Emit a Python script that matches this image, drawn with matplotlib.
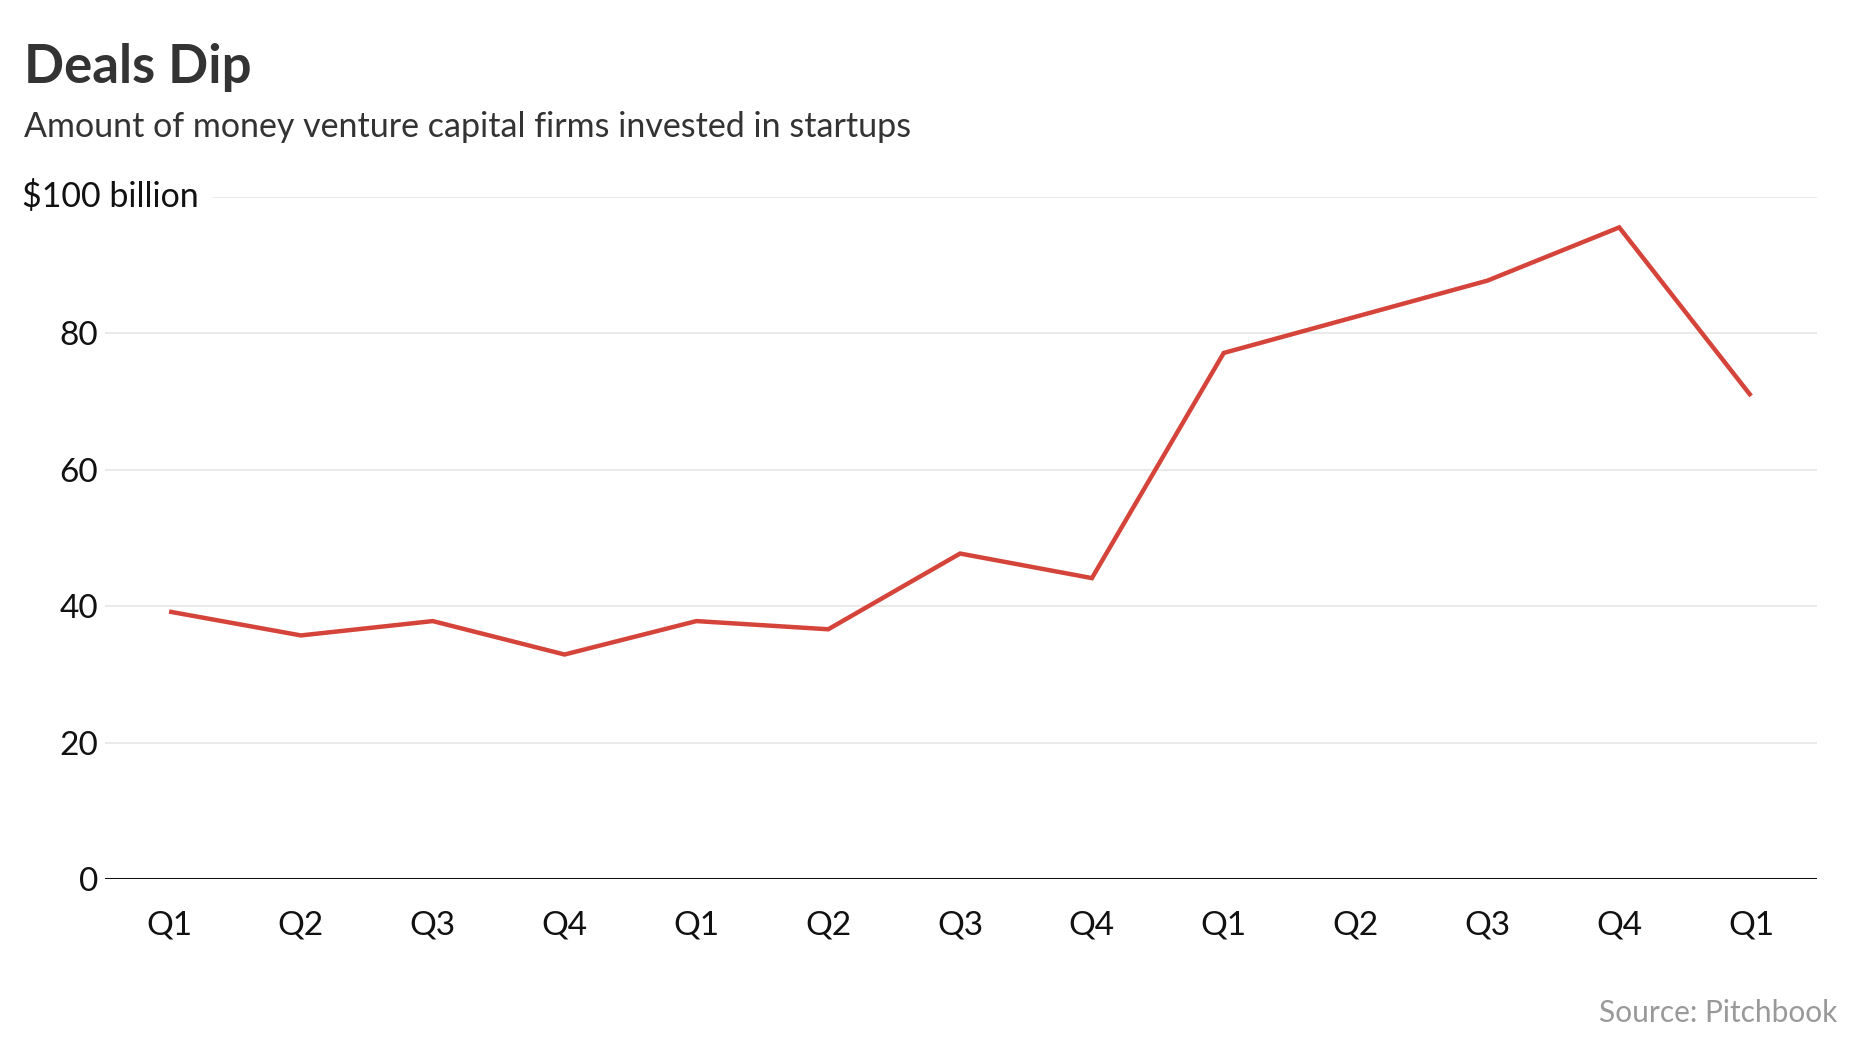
import numpy as np
import matplotlib
matplotlib.use('Agg')
import matplotlib.pyplot as plt
import matplotlib.transforms as mtransforms

# quarterly VC investment, $ billion
quarters = ['Q1', 'Q2', 'Q3', 'Q4', 'Q1', 'Q2', 'Q3', 'Q4',
            'Q1', 'Q2', 'Q3', 'Q4', 'Q1']
invested = [39.2, 35.7, 37.8, 32.9, 37.8, 36.6, 47.7, 44.1,
            77.1, 82.4, 87.7, 95.5, 70.8]
y_ticks = [0, 20, 40, 60, 80]
y_top_label = '$100 billion'

title = 'Deals Dip'
subtitle = 'Amount of money venture capital firms invested in startups'
source = 'Source: Pitchbook'

plt.rcParams['font.family'] = ['Lato', 'DejaVu Sans']

W, H = 1860, 1046
fig = plt.figure(figsize=(W / 100, H / 100), dpi=100)
left, right, top, bottom = 105, 1817, 196.7, 879
ax = fig.add_axes([left / W, 1 - bottom / H, (right - left) / W, (bottom - top) / H])

x = np.arange(len(quarters))
ax.plot(x, invested, color='#d5443a', lw=3.2, solid_joinstyle='miter',
        solid_capstyle='butt', clip_on=False, zorder=3)

ax.set_xlim(-0.486, len(quarters) - 1 + 0.50)
ax.set_ylim(0, 100)

# gridlines (the top one starts after its label)
ytr = ax.get_yaxis_transform()
for v in y_ticks[1:]:
    ax.plot([0, 1], [v, v], transform=ytr, color='#e4e4e4', lw=1.1, zorder=1)
ax.plot([(213 - left) / (right - left), 1], [100, 100], transform=ytr,
        color='#e4e4e4', lw=1.1, zorder=1)
ax.axhline(0, color='#111111', lw=2.2, zorder=2)

for s in ax.spines.values():
    s.set_visible(False)

ax.set_yticks(y_ticks)
ax.set_yticklabels([str(v) for v in y_ticks])
ax.set_xticks(x)
ax.set_xticklabels(quarters)
ax.tick_params(axis='y', length=0, pad=5, labelsize=24, labelcolor='#111111')
ax.tick_params(axis='x', length=0, pad=23, labelsize=24, labelcolor='#111111')

# "$100 billion" label sits at the left edge of the figure
tr = mtransforms.blended_transform_factory(fig.transFigure, ax.transData)
ax.text(22 / W, 100, y_top_label, transform=tr, ha='left', va='center',
        fontsize=24.5, color='#111111')

fig.text(24 / W, 1 - 83.3 / H, title, ha='left', va='baseline',
         fontsize=38, fontweight='bold', color='#333333')
fig.text(24 / W, 1 - 136.7 / H, subtitle, ha='left', va='baseline',
         fontsize=24.5, color='#333333')
fig.text(1837 / W, 1 - 1022.3 / H, source, ha='right', va='baseline',
         fontsize=21.5, color='#999999')

fig.savefig('out.png', dpi=100, facecolor='white')
